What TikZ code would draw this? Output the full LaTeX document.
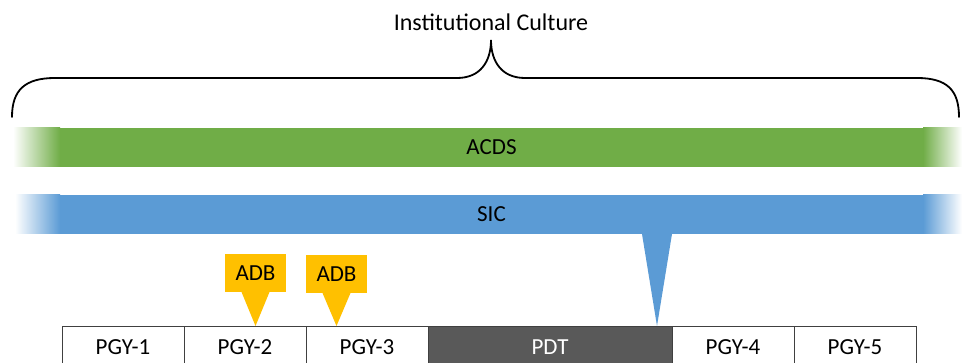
\documentclass[tikz,border=0pt]{standalone}
\usepackage{fontspec}
\setmainfont{Carlito}
\usetikzlibrary{positioning}
\definecolor{acdsgreen}{RGB}{112,173,71}
\definecolor{sicblue}{RGB}{91,155,213}
\definecolor{adbgold}{RGB}{255,192,0}

\begin{document}
\begin{tikzpicture}[x=1pt,y=1pt,
    txt/.style={font=\fontsize{23}{27}\selectfont},
    bar/.style={txt, fill=#1, minimum width=863pt, minimum height=39pt, inner sep=0pt, outer sep=0pt},
    yearbox/.style={txt, draw=boxline, line width=1pt, minimum width=122pt, minimum height=42pt, inner sep=0pt, outer sep=0pt},
    callout/.style={txt, fill=adbgold, minimum width=61pt, minimum height=38pt, inner sep=0pt, outer sep=0pt}]
    % Define colors for boxes
    \definecolor{boxline}{RGB}{64,64,64}
    \definecolor{pdtgray}{RGB}{89,89,89}

    % Page frame
    \clip (0,0) rectangle (962,362);

    % Title and brace
    \node[font=\fontsize{24}{28}\selectfont] (culture) at (491,340) {Institutional Culture};
    \coordinate (bracetip) at (491,322);
    \draw[line width=1.8pt, line cap=round]
        (12,245) .. controls (12,272) and (25,284) .. (55,284) -- (457,284)
        .. controls (480,284) and (491,300) .. (bracetip)
        .. controls (491,300) and (502,284) .. (525,284) -- (917,284)
        .. controls (947,284) and (959,272) .. (959,245);

    % Draw ACDS and SIC bars with faded ends
    \node[bar=acdsgreen] (acds) at (491.5,214.5) {ACDS};
    \shade[left color=white, right color=acdsgreen] ([xshift=-47pt]acds.south west) rectangle (acds.north west);
    \shade[left color=acdsgreen, right color=white] (acds.south east) rectangle ([xshift=39pt]acds.north east);

    \node[bar=sicblue] (sic) at (491.5,147.5) {SIC};
    \shade[left color=white, right color=sicblue] ([xshift=-45pt]sic.south west) rectangle (sic.north west);
    \shade[left color=sicblue, right color=white] (sic.south east) rectangle ([xshift=39pt]sic.north east);

    % Draw training years
    \node[yearbox] (pgy1) at (123,15) {PGY-1};
    \node[yearbox, right=0pt of pgy1] (pgy2) {PGY-2};
    \node[yearbox, right=0pt of pgy2] (pgy3) {PGY-3};
    \node[yearbox, right=0pt of pgy3, fill=pdtgray, text=white, minimum width=244pt] (pdt) {PDT};
    \node[yearbox, right=0pt of pdt] (pgy4) {PGY-4};
    \node[yearbox, right=0pt of pgy4] (pgy5) {PGY-5};

    % SIC pointer
    \coordinate (sictip) at ([xshift=-15pt]pdt.north east);
    \fill[sicblue] ([xshift=-15pt]sictip |- sic.south) -- (sictip) -- ([xshift=15pt]sictip |- sic.south) -- cycle;

    % ADB callouts
    \node[callout] (adb1) at (255.5,89) {ADB};
    \node[callout] (adb2) at (336.5,88) {ADB};
    \foreach \adb/\year in {adb1/pgy2, adb2/pgy3} {
        \coordinate (\adb tip) at (\adb.south |- \year.north);
        \fill[adbgold] ([xshift=-14pt]\adb.south) -- (\adb tip) -- ([xshift=14pt]\adb.south) -- cycle;
    }
\end{tikzpicture}
\end{document}
